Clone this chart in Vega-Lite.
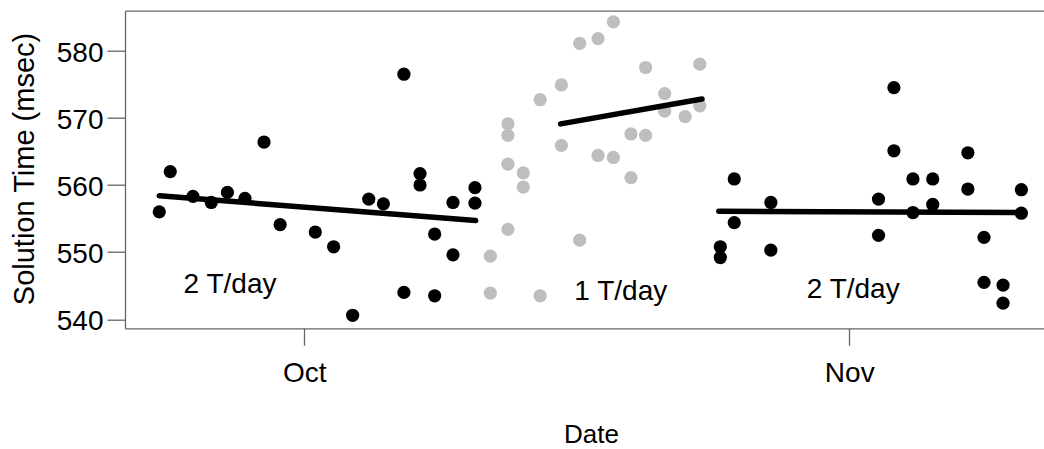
{
  "$schema": "https://vega.github.io/schema/vega-lite/v6.json",
  "autosize": {"type": "none"},
  "padding": {"left": 125, "top": 10.7, "right": 0, "bottom": 120.7},
  "width": 919,
  "height": 317.6,
  "background": "white",
  "config": {
    "font": "Liberation Sans",
    "view": {"stroke": null},
    "axis": {"grid": false, "domainColor": "#666666", "tickColor": "#666666", "labelColor": "#000000", "titleColor": "#000000", "titleFontWeight": "normal", "domainWidth": 1.3, "tickWidth": 1.3}
  },
  "datasets": {
    "pts": [
      {"date": "2012-09-22T18:00", "time": 556.0, "phase": "2 T/day"},
      {"date": "2012-09-23T09:00", "time": 562.0, "phase": "2 T/day"},
      {"date": "2012-09-24T16:00", "time": 558.3, "phase": "2 T/day"},
      {"date": "2012-09-25T17:00", "time": 557.4, "phase": "2 T/day"},
      {"date": "2012-09-26T15:00", "time": 558.9, "phase": "2 T/day"},
      {"date": "2012-09-27T15:00", "time": 558.0, "phase": "2 T/day"},
      {"date": "2012-09-28T17:00", "time": 566.4, "phase": "2 T/day"},
      {"date": "2012-09-29T15:00", "time": 554.1, "phase": "2 T/day"},
      {"date": "2012-10-01T15:00", "time": 553.0, "phase": "2 T/day"},
      {"date": "2012-10-02T16:00", "time": 550.8, "phase": "2 T/day"},
      {"date": "2012-10-03T18:00", "time": 540.6, "phase": "2 T/day"},
      {"date": "2012-10-04T16:00", "time": 557.9, "phase": "2 T/day"},
      {"date": "2012-10-05T12:00", "time": 557.2, "phase": "2 T/day"},
      {"date": "2012-10-06T16:00", "time": 576.5, "phase": "2 T/day"},
      {"date": "2012-10-06T16:00", "time": 544.0, "phase": "2 T/day"},
      {"date": "2012-10-07T14:00", "time": 561.7, "phase": "2 T/day"},
      {"date": "2012-10-07T14:00", "time": 560.0, "phase": "2 T/day"},
      {"date": "2012-10-08T10:00", "time": 552.7, "phase": "2 T/day"},
      {"date": "2012-10-08T10:00", "time": 543.5, "phase": "2 T/day"},
      {"date": "2012-10-09T11:00", "time": 557.4, "phase": "2 T/day"},
      {"date": "2012-10-09T11:00", "time": 549.6, "phase": "2 T/day"},
      {"date": "2012-10-10T17:00", "time": 559.6, "phase": "2 T/day"},
      {"date": "2012-10-10T17:00", "time": 557.3, "phase": "2 T/day"},
      {"date": "2012-10-11T14:00", "time": 549.4, "phase": "1 T/day"},
      {"date": "2012-10-11T14:00", "time": 543.9, "phase": "1 T/day"},
      {"date": "2012-10-12T14:00", "time": 569.1, "phase": "1 T/day"},
      {"date": "2012-10-12T14:00", "time": 567.4, "phase": "1 T/day"},
      {"date": "2012-10-12T14:00", "time": 563.1, "phase": "1 T/day"},
      {"date": "2012-10-12T14:00", "time": 553.4, "phase": "1 T/day"},
      {"date": "2012-10-13T11:00", "time": 561.8, "phase": "1 T/day"},
      {"date": "2012-10-13T11:00", "time": 559.7, "phase": "1 T/day"},
      {"date": "2012-10-14T10:00", "time": 572.7, "phase": "1 T/day"},
      {"date": "2012-10-14T10:00", "time": 543.5, "phase": "1 T/day"},
      {"date": "2012-10-15T15:00", "time": 574.9, "phase": "1 T/day"},
      {"date": "2012-10-15T15:00", "time": 565.9, "phase": "1 T/day"},
      {"date": "2012-10-16T16:00", "time": 581.1, "phase": "1 T/day"},
      {"date": "2012-10-16T16:00", "time": 551.8, "phase": "1 T/day"},
      {"date": "2012-10-17T17:00", "time": 581.8, "phase": "1 T/day"},
      {"date": "2012-10-17T17:00", "time": 564.4, "phase": "1 T/day"},
      {"date": "2012-10-18T14:00", "time": 584.3, "phase": "1 T/day"},
      {"date": "2012-10-18T14:00", "time": 564.1, "phase": "1 T/day"},
      {"date": "2012-10-19T14:00", "time": 567.6, "phase": "1 T/day"},
      {"date": "2012-10-19T14:00", "time": 561.1, "phase": "1 T/day"},
      {"date": "2012-10-20T10:00", "time": 577.5, "phase": "1 T/day"},
      {"date": "2012-10-20T10:00", "time": 567.4, "phase": "1 T/day"},
      {"date": "2012-10-21T12:00", "time": 573.6, "phase": "1 T/day"},
      {"date": "2012-10-21T12:00", "time": 571.0, "phase": "1 T/day"},
      {"date": "2012-10-22T16:00", "time": 570.2, "phase": "1 T/day"},
      {"date": "2012-10-23T12:00", "time": 578.0, "phase": "1 T/day"},
      {"date": "2012-10-23T12:00", "time": 571.8, "phase": "1 T/day"},
      {"date": "2012-10-24T16:00", "time": 550.8, "phase": "2 T/day"},
      {"date": "2012-10-24T16:00", "time": 549.2, "phase": "2 T/day"},
      {"date": "2012-10-25T11:00", "time": 560.9, "phase": "2 T/day"},
      {"date": "2012-10-25T11:00", "time": 554.4, "phase": "2 T/day"},
      {"date": "2012-10-27T13:00", "time": 557.4, "phase": "2 T/day"},
      {"date": "2012-10-27T13:00", "time": 550.3, "phase": "2 T/day"},
      {"date": "2012-11-02T16:00", "time": 557.9, "phase": "2 T/day"},
      {"date": "2012-11-02T16:00", "time": 552.5, "phase": "2 T/day"},
      {"date": "2012-11-03T13:00", "time": 574.5, "phase": "2 T/day"},
      {"date": "2012-11-03T13:00", "time": 565.1, "phase": "2 T/day"},
      {"date": "2012-11-04T15:00", "time": 560.9, "phase": "2 T/day"},
      {"date": "2012-11-04T15:00", "time": 555.9, "phase": "2 T/day"},
      {"date": "2012-11-05T18:00", "time": 560.9, "phase": "2 T/day"},
      {"date": "2012-11-05T18:00", "time": 557.1, "phase": "2 T/day"},
      {"date": "2012-11-07T18:00", "time": 564.8, "phase": "2 T/day"},
      {"date": "2012-11-07T18:00", "time": 559.4, "phase": "2 T/day"},
      {"date": "2012-11-08T16:00", "time": 552.2, "phase": "2 T/day"},
      {"date": "2012-11-08T16:00", "time": 545.5, "phase": "2 T/day"},
      {"date": "2012-11-09T18:00", "time": 545.1, "phase": "2 T/day"},
      {"date": "2012-11-09T18:00", "time": 542.4, "phase": "2 T/day"},
      {"date": "2012-11-10T19:00", "time": 559.3, "phase": "2 T/day"},
      {"date": "2012-11-10T19:00", "time": 555.8, "phase": "2 T/day"}
    ],
    "fits": [
      {"date": "2012-09-22T18:00", "time": 558.4, "seg": "a"},
      {"date": "2012-10-10T18:00", "time": 554.7, "seg": "a"},
      {"date": "2012-10-15T14:00", "time": 569.1, "seg": "b"},
      {"date": "2012-10-23T15:00", "time": 572.8, "seg": "b"},
      {"date": "2012-10-24T14:00", "time": 556.1, "seg": "c"},
      {"date": "2012-11-10T21:00", "time": 555.9, "seg": "c"}
    ],
    "labels": [
      {"date": "2012-09-26T18:35", "time": 543.9, "label": "2 T/day"},
      {"date": "2012-10-19T00:05", "time": 542.87, "label": "1 T/day"},
      {"date": "2012-11-01T05:30", "time": 543.13, "label": "2 T/day"}
    ]
  },
  "resolve": {"axis": {"x": "independent"}},
  "layer": [
    {
      "data": {"name": "pts"},
      "mark": {"type": "point", "filled": true, "shape": "circle", "size": 175, "opacity": 1, "strokeWidth": 0},
      "encoding": {
        "x": {
          "field": "date", "type": "temporal",
          "scale": {"domain": [{"year": 2012, "month": 9, "date": 20, "hours": 19, "minutes": 12}, {"year": 2012, "month": 11, "date": 12, "hours": 1, "minutes": 55}]},
          "axis": {
            "orient": "bottom",
            "values": [{"year": 2012, "month": 10, "date": 1}, {"year": 2012, "month": 11, "date": 1}],
            "format": "%b",
            "title": "Date",
            "labelFontSize": 28, "tickSize": 17, "labelPadding": 14, "labelFlush": false, "labelOverlap": false,
            "titleFontSize": 26, "titleX": 466, "titleY": 114.5, "titleBaseline": "alphabetic", "titleAlign": "center"
          }
        },
        "y": {
          "field": "time", "type": "quantitative",
          "scale": {"domain": [538.66, 585.96], "nice": false, "zero": false},
          "axis": {
            "values": [540, 550, 560, 570, 580],
            "title": "Solution Time (msec)",
            "labelFontSize": 28, "tickSize": 18, "labelPadding": 4, "labelOffset": 2.5,
            "titleFontSize": 29, "titleX": -91.5, "titleY": 157.8, "titleBaseline": "alphabetic", "titleAlign": "center", "titleAngle": 270
          }
        },
        "color": {
          "field": "phase", "type": "nominal",
          "scale": {"domain": ["2 T/day", "1 T/day"], "range": ["#000000", "#bebebe"]},
          "legend": null
        }
      }
    },
    {
      "data": {"name": "fits"},
      "mark": {"type": "line", "color": "#000000", "strokeWidth": 5.5, "strokeCap": "round"},
      "encoding": {
        "x": {
          "field": "date", "type": "temporal",
          "axis": {"orient": "top", "labels": false, "ticks": false, "title": null, "domain": true}
        },
        "y": {"field": "time", "type": "quantitative"},
        "detail": {"field": "seg", "type": "nominal"}
      }
    },
    {
      "data": {"name": "labels"},
      "mark": {"type": "text", "fontSize": 28, "color": "#000000", "align": "center", "baseline": "alphabetic"},
      "encoding": {
        "x": {"field": "date", "type": "temporal", "axis": null},
        "y": {"field": "time", "type": "quantitative"},
        "text": {"field": "label"}
      }
    }
  ]
}
